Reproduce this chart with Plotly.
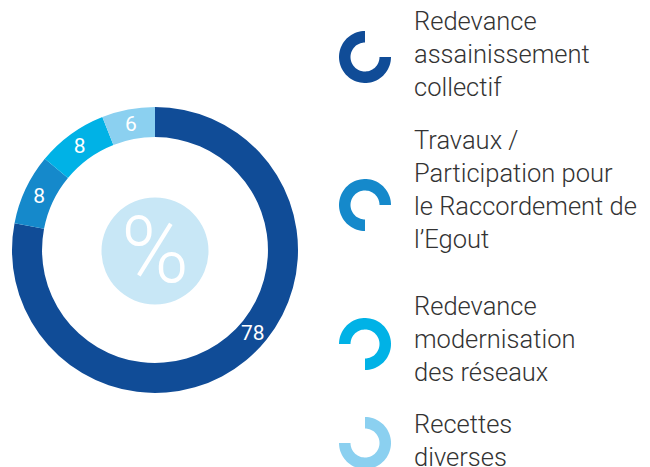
import numpy as np
import plotly.graph_objects as go

W, H = 650, 467

categories = [
    "Redevance assainissement collectif",
    "Travaux / Participation pour le Raccordement de l'Egout",
    "Redevance modernisation des réseaux",
    "Recettes diverses",
]
legend_labels = [
    "Redevance<br>assainissement<br>collectif",
    "Travaux /<br>Participation pour<br>le Raccordement de<br>l’Egout",
    "Redevance<br>modernisation<br>des réseaux",
    "Recettes<br>diverses",
]
values = [78, 8, 8, 6]
colors = ["#104c97", "#1589cb", "#00b2e6", "#8bd0f0"]

FONT = "Roboto"

def px_x(x):
    return x / W

def px_y(y):
    return 1 - y / H

fig = go.Figure()

# main donut
cx, cy, R = 155, 250, 143
slice_text = [""] + [str(v) for v in values[1:]]
fig.add_trace(go.Pie(
    labels=categories,
    values=values,
    text=slice_text,
    marker=dict(colors=colors, line=dict(width=0)),
    hole=0.79,
    sort=False,
    direction="clockwise",
    rotation=0,
    textinfo="text",
    textposition="inside",
    insidetextorientation="horizontal",
    textfont=dict(family=FONT, size=21, color="white"),
    showlegend=False,
    hoverinfo="label+value",
    domain=dict(x=[px_x(cx - R), px_x(cx + R)], y=[px_y(cy + R), px_y(cy - R)]),
))

shapes = []
# center circle
cr = 53.5
shapes.append(dict(type="circle", xref="paper", yref="paper",
                   x0=px_x(cx - cr), x1=px_x(cx + cr),
                   y0=px_y(cy + 1 + cr), y1=px_y(cy + 1 - cr),
                   fillcolor="#c8e7f6", line=dict(width=0), layer="above"))

# legend icons: annular sectors (angles clockwise from 12 o'clock)
def arc_path(ccx, ccy, ro, ri, a0, a1, n=60):
    t = np.radians(np.linspace(a0, a1, n))
    ox = ccx + ro * np.sin(t)
    oy = ccy - ro * np.cos(t)
    ix = ccx + ri * np.sin(t[::-1])
    iy = ccy - ri * np.cos(t[::-1])
    xs = np.concatenate([ox, ix])
    ys = np.concatenate([oy, iy])
    pts = [f"{px_x(x):.5f},{px_y(y):.5f}" for x, y in zip(xs, ys)]
    return "M" + " L".join(pts) + " Z"

icon_x = 365
icon_y = [57, 205, 344, 443]
icon_start = [90, 180, 270, 0]
for c, iy, a0 in zip(colors, icon_y, icon_start):
    shapes.append(dict(type="path", xref="paper", yref="paper",
                       path=arc_path(icon_x, iy, 26, 14.5, a0, a0 + 270),
                       fillcolor=c, line=dict(width=0)))

annotations = [
    dict(text="%", x=px_x(cx), y=px_y(cy + 1), xref="paper", yref="paper",
         showarrow=False, xanchor="center", yanchor="middle",
         font=dict(family="Roboto", size=92, color="white", weight=300)),
    # label of the large slice, placed on the ring at lower right
    dict(text=str(values[0]), x=px_x(253), y=px_y(333), xref="paper", yref="paper",
         showarrow=False, xanchor="center", yanchor="middle",
         font=dict(family=FONT, size=21, color="white")),
]

text_y = [54, 190, 339, 440]
for lab, ty in zip(legend_labels, text_y):
    annotations.append(dict(text=lab, x=px_x(412), y=px_y(ty), xref="paper", yref="paper",
                            showarrow=False, xanchor="left", yanchor="middle", align="left",
                            font=dict(family=FONT, size=25.5, color="#333333", weight=300)))

fig.update_layout(
    width=W, height=H,
    margin=dict(l=0, r=0, t=0, b=0),
    paper_bgcolor="white",
    plot_bgcolor="white",
    shapes=shapes,
    annotations=annotations,
    showlegend=False,
)

fig.write_html("out.html", config={"displayModeBar": False},
               post_script="document.body.style.margin='0';")
